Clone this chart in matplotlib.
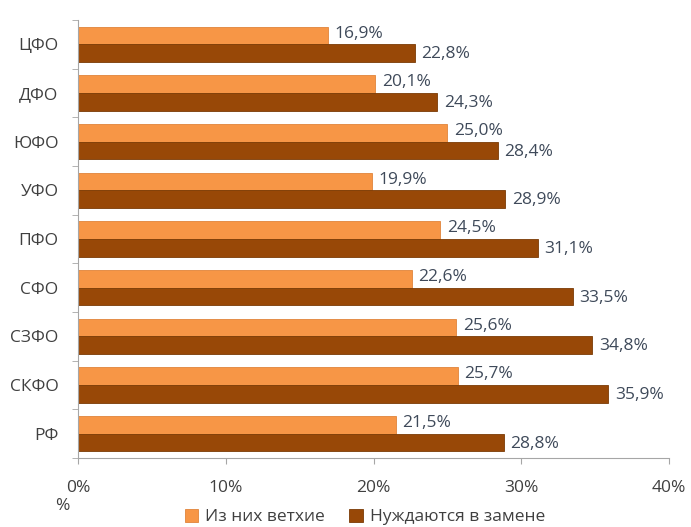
import matplotlib.pyplot as plt
import numpy as np

regions = ['ЦФО', 'ДФО', 'ЮФО', 'УФО', 'ПФО', 'СФО', 'СЗФО', 'СКФО', 'РФ']
old = [16.9, 20.1, 25.0, 19.9, 24.5, 22.6, 25.6, 25.7, 21.5]
replace = [22.8, 24.3, 28.4, 28.9, 31.1, 33.5, 34.8, 35.9, 28.8]
xticks = [0, 10, 20, 30, 40]

plt.rcParams['font.family'] = ['Open Sans', 'DejaVu Sans']

fig = plt.figure(figsize=(6.91, 5.27), dpi=100)
ax = fig.add_axes([78 / 691, 1 - 458 / 527, (669 - 78) / 691, (458 - 20) / 527])

y = np.arange(len(regions))
h = 0.365
orange = '#F79646'
brown = '#984807'
label_color = '#3F4A5A'
fs = 12.5

b1 = ax.barh(y - h / 2, old, height=h, color=orange, edgecolor='#E0843A', linewidth=0.6,
             label='Из них ветхие')
b2 = ax.barh(y + h / 2, replace, height=h, color=brown, edgecolor='#7A3A05', linewidth=0.6,
             label='Нуждаются в замене')

for yy, v in zip(y, old):
    ax.text(v + 0.45, yy - h / 2 - 0.04, f'{v:.1f}%'.replace('.', ','), va='center', ha='left',
            fontsize=fs, color=label_color)
for yy, v in zip(y, replace):
    ax.text(v + 0.45, yy + h / 2 + 0.02, f'{v:.1f}%'.replace('.', ','), va='center', ha='left',
            fontsize=fs, color=label_color)

ax.set_xlim(0, 40)
ax.set_ylim(len(regions) - 0.5, -0.5)
ax.set_xticks(xticks)
ax.set_xticklabels([f'{t}%' for t in xticks], fontsize=fs, color='#404040')
ax.set_yticks(y)
ax.set_yticklabels(regions, fontsize=fs, color='#404040')
ax.set_yticks(np.arange(-0.5, len(regions), 1), minor=True)
ax.tick_params(axis='y', which='major', length=0, pad=14)
ax.tick_params(axis='y', which='minor', length=4, color='#A6A6A6', direction='out')
ax.tick_params(axis='x', length=4, color='#A6A6A6', pad=12)

for s in ['top', 'right']:
    ax.spines[s].set_visible(False)
for s in ['left', 'bottom']:
    ax.spines[s].set_color('#A6A6A6')

fig.text(55 / 691, 1 - 506 / 527, '%', fontsize=fs, color='#404040', ha='left', va='center')

fig.legend(handles=[b1, b2], loc='center', bbox_to_anchor=(365 / 691, 1 - 517 / 527), ncol=2,
           frameon=False, fontsize=fs, handlelength=0.8, handleheight=0.8, handletextpad=0.4,
           columnspacing=1.4, labelcolor='#404040', borderaxespad=0, borderpad=0)

fig.savefig('out.png', dpi=100)
